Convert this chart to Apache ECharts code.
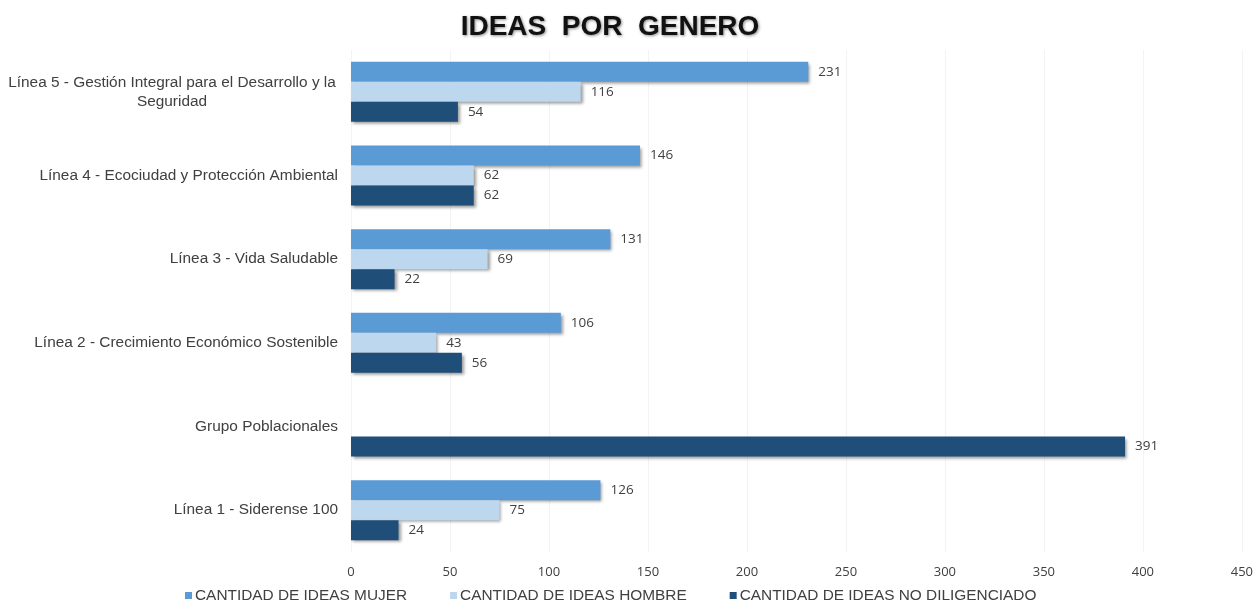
<!DOCTYPE html>
<html>
<head>
<meta charset="utf-8">
<script src="https://cdn.jsdelivr.net/npm/echarts@6/dist/echarts.min.js"></script>
<style>html,body{margin:0;padding:0;background:#fff}#c{width:1256px;height:602px}</style>
</head>
<body>
<div id="c"></div>
<script>
const categories = [
  "Línea 5 - Gestión Integral para el Desarrollo y la\nSeguridad",
  "Línea 4 - Ecociudad y Protección Ambiental",
  "Línea 3 - Vida Saludable",
  "Línea 2 - Crecimiento Económico Sostenible",
  "Grupo Poblacionales",
  "Línea 1 - Siderense 100"
];
const seriesNames = ["CANTIDAD DE IDEAS MUJER", "CANTIDAD DE IDEAS HOMBRE", "CANTIDAD DE IDEAS NO DILIGENCIADO"];
const mujer = [231, 146, 131, 106, null, 126];
const hombre = [116, 62, 69, 43, null, 75];
const noDiligenciado = [54, 62, 22, 56, 391, 24];
const colors = ["#5B9BD5", "#BDD7EE", "#1F4E79"];

const chart = echarts.init(document.getElementById('c'));
function mk(name, data, color) {
  return {
    name: name, type: 'bar', data: data, barWidth: 20, barGap: '0%',
    itemStyle: { color: color, shadowColor: 'rgba(0,0,0,0.4)', shadowBlur: 3, shadowOffsetX: 2, shadowOffsetY: 2 },
    label: { show: true, position: 'right', distance: 10, color: '#404040', fontSize: 13.5, fontFamily: 'Open Sans' },
    emphasis: { disabled: true }
  };
}
chart.setOption({
  animation: false,
  title: {
    text: 'IDEAS  POR  GENERO', left: 605, top: 8, textAlign: 'center',
    textStyle: { fontFamily: 'Liberation Sans', fontWeight: 900, fontSize: 28, color: '#111',
      textShadowColor: 'rgba(0,0,0,0.45)', textShadowBlur: 3, textShadowOffsetX: 1, textShadowOffsetY: 1 }
  },
  grid: { left: 351, right: 12, top: 50, bottom: 50 },
  legend: {
    top: 588, left: 185, padding: 0, itemWidth: 7, itemHeight: 7, icon: 'rect', itemGap: 43,
    textStyle: { fontFamily: 'Liberation Sans', fontSize: 15.4, color: '#404040', padding: [0, 0, 0, -2] },
    data: seriesNames
  },
  xAxis: {
    type: 'value', min: 0, max: 450, interval: 50,
    axisLine: { show: false }, axisTick: { show: false },
    splitLine: { lineStyle: { color: '#f3f3f3' } },
    axisLabel: { color: '#404040', fontSize: 13, fontFamily: 'Open Sans', margin: 14 }
  },
  yAxis: {
    type: 'category', data: categories, inverse: true,
    axisLine: { show: false }, axisTick: { show: false },
    axisLabel: {
      color: '#404040', fontSize: 15.4, fontFamily: 'Liberation Sans', margin: 13, lineHeight: 19,
      formatter: function (v) {
        if (v.indexOf('\n') >= 0) {
          return v.split('\n').map(s => '{c|' + s + '}').join('\n');
        }
        return v;
      },
      rich: { c: { width: 332, align: 'center', fontSize: 15.4, fontFamily: 'Liberation Sans', color: '#404040', lineHeight: 19 } }
    }
  },
  series: [mk(seriesNames[0], mujer, colors[0]), mk(seriesNames[1], hombre, colors[1]), mk(seriesNames[2], noDiligenciado, colors[2])]
});
</script>
</body>
</html>
